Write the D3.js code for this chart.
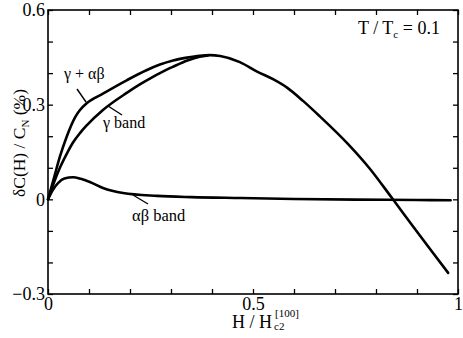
<!DOCTYPE html>
<html>
<head>
<meta charset="utf-8">
<script src="https://cdn.jsdelivr.net/npm/d3@7"></script>
<style>
  body { margin: 0; background: #fff; }
  svg { display: block; }
</style>
</head>
<body>
<svg id="chart" width="463" height="338"></svg>
<script>
// ---- data ----
const hGammaAB = [0, 0.015, 0.029, 0.046, 0.066, 0.078, 0.095, 0.134, 0.193, 0.24, 0.273, 0.305, 0.339, 0.37, 0.395, 0.42, 0.468, 0.51, 0.55, 0.583, 0.622, 0.663, 0.732, 0.785, 0.839, 0.89, 0.935, 0.976];
const cGammaAB = [0, 0.07, 0.135, 0.2, 0.26, 0.283, 0.305, 0.335, 0.378, 0.409, 0.427, 0.44, 0.449, 0.455, 0.457, 0.454, 0.435, 0.405, 0.38, 0.354, 0.312, 0.263, 0.175, 0.097, 0.004, -0.085, -0.163, -0.233];

const hGamma = [0, 0.015, 0.029, 0.046, 0.061, 0.078, 0.095, 0.134, 0.193, 0.224, 0.256, 0.273, 0.305, 0.34, 0.37, 0.39];
const cGamma = [0, 0.055, 0.1, 0.145, 0.18, 0.21, 0.235, 0.283, 0.338, 0.364, 0.388, 0.4, 0.42, 0.44, 0.452, 0.456];

const hAB = [0, 0.012, 0.025, 0.04, 0.061, 0.08, 0.102, 0.134, 0.183, 0.266, 0.35, 0.47, 0.6, 0.75, 0.9, 0.982];
const cAB = [0, 0.03, 0.052, 0.066, 0.07, 0.065, 0.055, 0.036, 0.02, 0.011, 0.007, 0.004, 0.001, -0.001, -0.002, -0.003];

const xTickLabels = [0, 0.5, 1];
const yTickLabels = [0.6, 0.3, 0, -0.3];

// ---- layout ----
const FONT = "Liberation Serif";
const W = 463, H = 338;
const m = { left: 48, right: 5, top: 10, bottom: 44 };
const svg = d3.select("#chart");
const x = d3.scaleLinear().domain([0, 1]).range([m.left, W - m.right]);
const y = d3.scaleLinear().domain([-0.3, 0.6]).range([H - m.bottom, m.top]);

const xMinor = d3.range(0, 1.0001, 0.1);
const yMinor = d3.range(-0.3, 0.6001, 0.1);

function tickAxis(axis, tr) {
  const g = svg.append("g").attr("transform", tr).call(axis);
  g.select(".domain").remove();
  g.selectAll("line").attr("stroke", "#000").attr("stroke-width", 1.3);
  g.selectAll("text").remove();
}
tickAxis(d3.axisBottom(x).tickValues(xMinor).tickSizeInner(-5).tickSizeOuter(0), `translate(0,${y(-0.3)})`);
tickAxis(d3.axisTop(x).tickValues(xMinor).tickSizeInner(-5).tickSizeOuter(0), `translate(0,${y(0.6)})`);
tickAxis(d3.axisLeft(y).tickValues(yMinor).tickSizeInner(-5).tickSizeOuter(0), `translate(${x(0)},0)`);
tickAxis(d3.axisRight(y).tickValues(yMinor).tickSizeInner(-5).tickSizeOuter(0), `translate(${x(1)},0)`);

// labels
const xl = svg.append("g").attr("transform", `translate(0,${y(-0.3)})`)
  .call(d3.axisBottom(x).tickValues(xTickLabels).tickSize(0).tickPadding(3).tickFormat(d3.format("")));
xl.select(".domain").remove();
xl.attr("font-family", FONT).attr("font-size", 18);
xl.selectAll("text").attr("fill", "#000");

const yl = svg.append("g").attr("transform", `translate(${x(0)},0)`)
  .call(d3.axisLeft(y).tickValues(yTickLabels).tickSize(0).tickPadding(3).tickFormat(d3.format("")));
yl.select(".domain").remove();
yl.attr("font-family", FONT).attr("font-size", 18);
yl.selectAll("text").attr("fill", "#000");

// frame
svg.append("rect")
  .attr("x", x(0)).attr("y", y(0.6))
  .attr("width", x(1) - x(0)).attr("height", y(-0.3) - y(0.6))
  .attr("fill", "none").attr("stroke", "#000").attr("stroke-width", 1.6);

// curves
const line = d3.line().x(d => x(d[0])).y(d => y(d[1])).curve(d3.curveMonotoneX);
function curve(hs, cs) {
  svg.append("path").datum(hs.map((h, i) => [h, cs[i]]))
    .attr("d", line).attr("fill", "none").attr("stroke", "#000")
    .attr("stroke-width", 2.6).attr("stroke-linejoin", "round").attr("stroke-linecap", "round");
}
curve(hAB, cAB);
curve(hGamma, cGamma);
curve(hGammaAB, cGammaAB);

// annotations
function lead(x1, y1, x2, y2) {
  svg.append("line").attr("x1", x1).attr("y1", y1).attr("x2", x2).attr("y2", y2)
    .attr("stroke", "#000").attr("stroke-width", 1.4);
}
function label(px, py, size) {
  return svg.append("text").attr("x", px).attr("y", py)
    .attr("font-family", FONT).attr("font-size", size).attr("fill", "#000");
}
label(64, 79, 16).text("γ + αβ");
lead(77, 89, 86, 102);
label(103, 128, 16).text("γ band");
lead(108, 106, 122, 115);
label(132, 221, 16.5).text("αβ band");
lead(133, 195, 148, 204);

const tt = label(358, 34, 18);
tt.append("tspan").text("T / T");
tt.append("tspan").attr("dy", 4).attr("font-size", 11).text("c");
tt.append("tspan").attr("dy", -4).text(" = 0.1");

// axis titles
const xt = label(232, 328, 18);
xt.append("tspan").text("H / H");
const xtEnd = 274;
xt.append("tspan").attr("x", xtEnd).attr("dy", 2).attr("font-size", 11).text("c2");
xt.append("tspan").attr("x", xtEnd + 1).attr("dy", -13).attr("font-size", 11).text("[100]");

const yt = svg.append("text").attr("transform", "translate(25,143) rotate(-90)")
  .attr("text-anchor", "middle").attr("font-family", FONT).attr("font-size", 17.5).attr("fill", "#000");
yt.append("tspan").text("δC(H) / C");
yt.append("tspan").attr("dy", 4).attr("font-size", 11).text("N");
yt.append("tspan").attr("dy", -4).text(" (%)");
</script>
</body>
</html>
